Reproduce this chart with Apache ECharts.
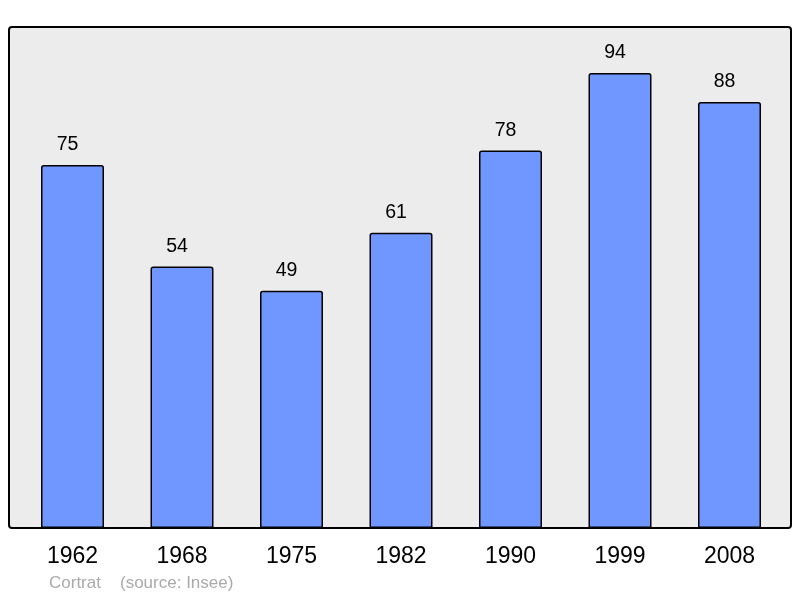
<!DOCTYPE html>
<html>
<head>
<meta charset="utf-8">
<script src="https://cdn.jsdelivr.net/npm/echarts@6/dist/echarts.min.js"></script>
<style>
html,body{margin:0;padding:0;background:#fff;}
#chart{width:800px;height:598px;}
</style>
</head>
<body>
<div id="chart"></div>
<script>
// données population
var years = ['1962', '1968', '1975', '1982', '1990', '1999', '2008'];
var population = [75, 54, 49, 61, 78, 94, 88];
var commune = 'Cortrat';
var source = '(source: Insee)';

var chart = echarts.init(document.getElementById('chart'));
var option = {
	animation: false,
	textStyle: { fontFamily: 'Liberation Sans, Arial, sans-serif' },
	grid: { left: 17.75, right: 15.75, top: 27, bottom: 70 },
	graphic: [
		{ // cadre gris
			type: 'rect', z: -10,
			shape: { x: 9, y: 27, width: 782, height: 501, r: 3 },
			style: { fill: '#ececec', stroke: '#000', lineWidth: 2 }
		},
		{
			type: 'text', left: 49, top: 575,
			style: { text: commune, fill: '#aaaaaa', fontSize: 17, fontFamily: 'Liberation Sans' }
		},
		{
			type: 'text', left: 120, top: 575,
			style: { text: source, fill: '#aaaaaa', fontSize: 17, fontFamily: 'Liberation Sans' }
		}
	],
	xAxis: {
		type: 'category',
		data: years,
		axisLine: { show: false },
		axisTick: { show: false },
		axisLabel: { color: '#000', fontSize: 23, margin: 17 }
	},
	yAxis: {
		type: 'value', min: 0, max: 103.5,
		show: false,
		splitLine: { show: false }
	},
	series: [{
		type: 'bar',
		data: population,
		barWidth: 63,
		itemStyle: { color: '#7096ff', borderColor: '#000', borderWidth: 1.5, borderRadius: [2, 2, 0, 0] },
		label: { show: true, position: 'top', distance: 10, offset: [-5, 0], color: '#000', fontSize: 19.5 }
	}]
};
chart.setOption(option);
</script>
</body>
</html>
